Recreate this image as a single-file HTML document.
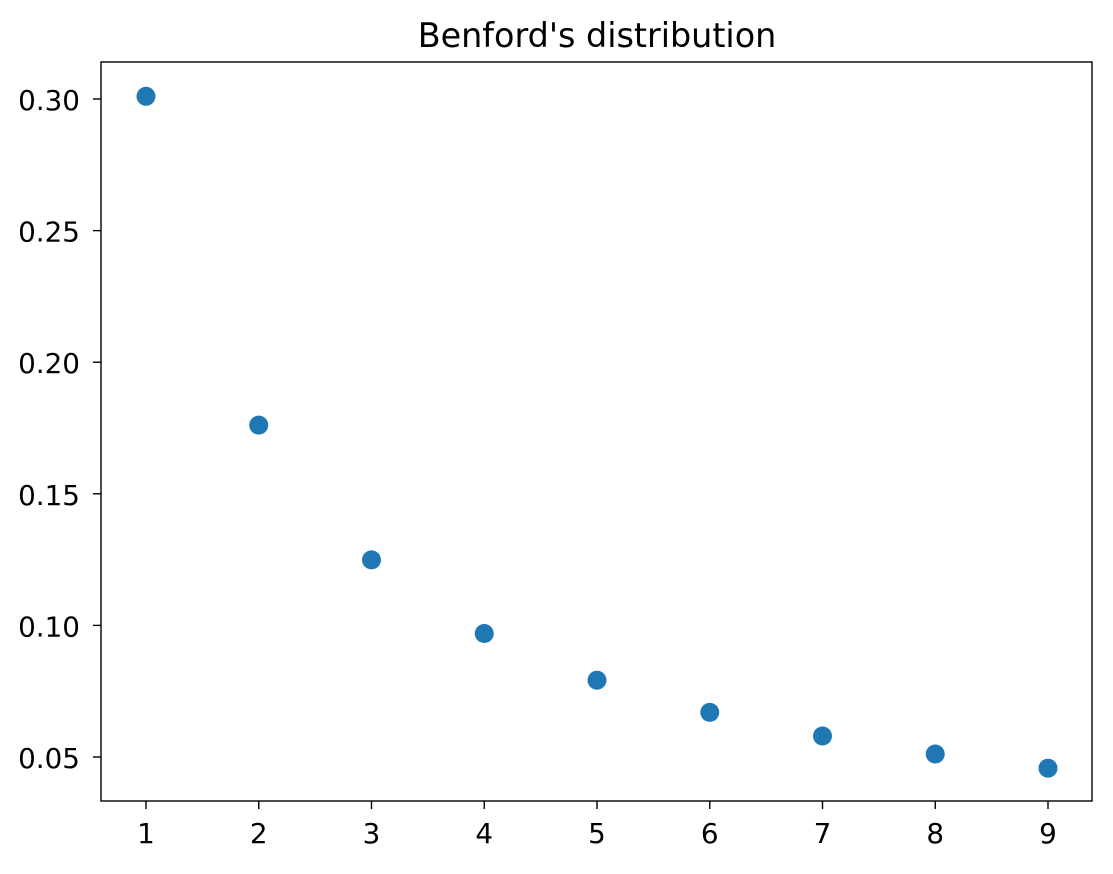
<!DOCTYPE html>
<html><head><meta charset="utf-8"><style>html,body{margin:0;padding:0;background:#fff}</style></head>
<body>
<svg width="1113" height="869" xmlns="http://www.w3.org/2000/svg" font-family="DejaVu Sans, Liberation Sans, sans-serif">
<rect width="1113" height="869" fill="#fff"/>
<text x="597" y="47" font-size="33.4" text-anchor="middle" fill="#000">Benford's distribution</text>
<rect x="101" y="62" width="991" height="739" fill="none" stroke="#000" stroke-width="1.4"/>
<g stroke="#000" stroke-width="1.4">
<line x1="146" y1="801" x2="146" y2="809"/><line x1="258.75" y1="801" x2="258.75" y2="809"/>
<line x1="371.5" y1="801" x2="371.5" y2="809"/><line x1="484.25" y1="801" x2="484.25" y2="809"/>
<line x1="597" y1="801" x2="597" y2="809"/><line x1="709.75" y1="801" x2="709.75" y2="809"/>
<line x1="822.5" y1="801" x2="822.5" y2="809"/><line x1="935.25" y1="801" x2="935.25" y2="809"/>
<line x1="1048" y1="801" x2="1048" y2="809"/>
<line x1="93" y1="99" x2="101" y2="99"/><line x1="93" y1="230.6" x2="101" y2="230.6"/>
<line x1="93" y1="362.2" x2="101" y2="362.2"/><line x1="93" y1="493.8" x2="101" y2="493.8"/>
<line x1="93" y1="625.4" x2="101" y2="625.4"/><line x1="93" y1="757" x2="101" y2="757"/>
</g>
<g font-size="27.8" fill="#000" text-anchor="middle">
<text x="146" y="843">1</text><text x="258.75" y="843">2</text><text x="371.5" y="843">3</text>
<text x="484.25" y="843">4</text><text x="597" y="843">5</text><text x="709.75" y="843">6</text>
<text x="822.5" y="843">7</text><text x="935.25" y="843">8</text><text x="1048" y="843">9</text>
</g>
<g font-size="27.8" fill="#000" text-anchor="end">
<text x="80" y="110">0.30</text><text x="80" y="241.6">0.25</text><text x="80" y="373.2">0.20</text>
<text x="80" y="504.8">0.15</text><text x="80" y="636.4">0.10</text><text x="80" y="768">0.05</text>
</g>
<g fill="#1f77b4">
<circle cx="146" cy="96.3" r="9.5"/><circle cx="258.75" cy="425.1" r="9.5"/>
<circle cx="371.5" cy="559.9" r="9.5"/><circle cx="484.25" cy="633.5" r="9.5"/>
<circle cx="597" cy="680.2" r="9.5"/><circle cx="709.75" cy="712.4" r="9.5"/>
<circle cx="822.5" cy="736" r="9.5"/><circle cx="935.25" cy="754" r="9.5"/>
<circle cx="1048" cy="768.2" r="9.5"/>
</g>
</svg>
</body></html>
